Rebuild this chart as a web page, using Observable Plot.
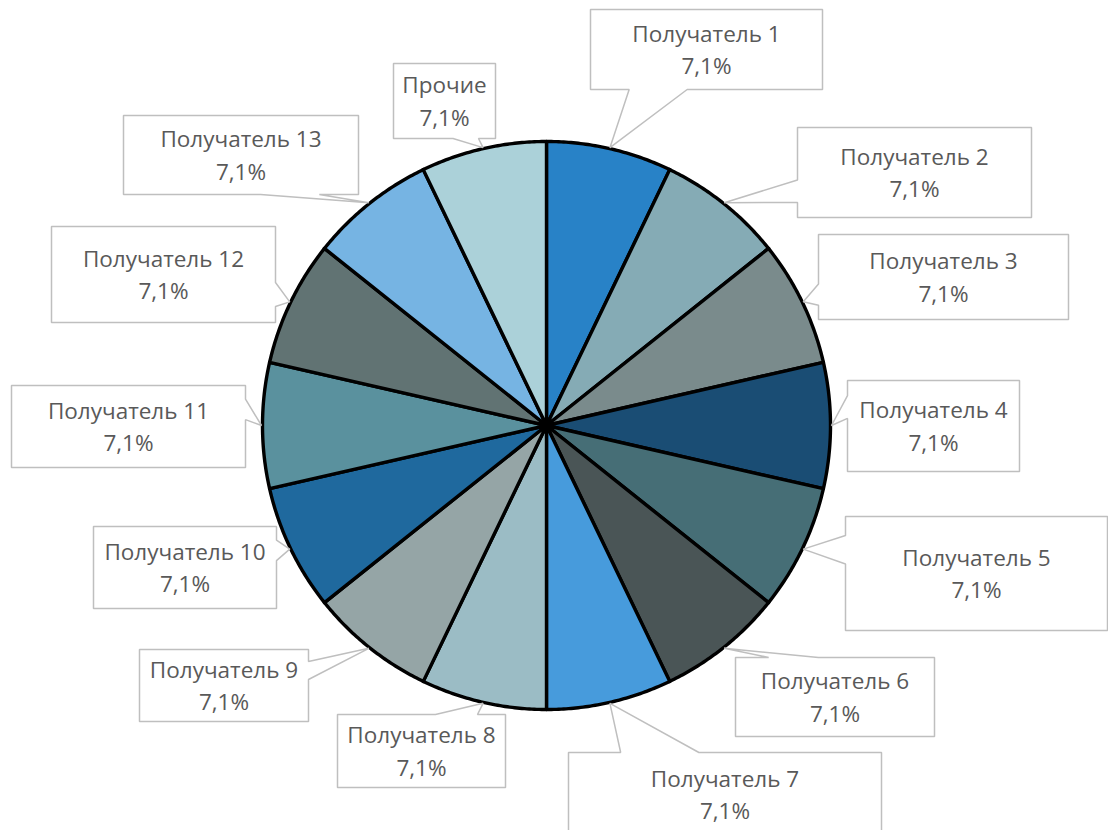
<!DOCTYPE html>
<html>
<head>
<meta charset="utf-8">
<script src="https://cdn.jsdelivr.net/npm/d3@7"></script>
<script src="https://cdn.jsdelivr.net/npm/@observablehq/plot@0.6"></script>
<style>
  html, body { margin: 0; padding: 0; background: #ffffff; }
  #chart { width: 1108px; height: 830px; overflow: hidden; }
  svg { display: block; }
</style>
</head>
<body>
<div id="chart"></div>
<script>
// ---- data ----
const categories = [
  "Получатель 1", "Получатель 2", "Получатель 3", "Получатель 4", "Получатель 5",
  "Получатель 6", "Получатель 7", "Получатель 8", "Получатель 9", "Получатель 10",
  "Получатель 11", "Получатель 12", "Получатель 13", "Прочие"
];
const values = [7.1, 7.1, 7.1, 7.1, 7.1, 7.1, 7.1, 7.1, 7.1, 7.1, 7.1, 7.1, 7.1, 7.1];
const colors = [
  "#2882c7", "#85abb5", "#7a8b8c", "#1a4d74", "#466e76",
  "#4a5556", "#479bdc", "#9bbcc5", "#95a5a6", "#1f699e",
  "#5a919e", "#617373", "#76b4e3", "#abd1d9"
];

// ---- layout (label callout boxes: x0, y0, x1, y1) ----
const labelBoxes = [
  [590, 9, 822, 89],
  [797, 127, 1031, 217],
  [818, 234, 1068, 319],
  [847, 380, 1019, 471],
  [845, 516, 1107, 630],
  [735, 657, 934, 736],
  [568, 752, 881, 836],
  [337, 714, 505, 787],
  [139, 649, 308, 721],
  [93, 526, 276, 608],
  [11, 385, 245, 467],
  [51, 226, 275, 322],
  [123, 115, 358, 194],
  [393, 63, 495, 138]
];
const W = 1108, H = 830;
const cx = 546, cy = 425, R = 284;

// ---- pie geometry ----
const total = d3.sum(values);
const arcs = d3.pie().sort(null).value(d => d)(values);
const pt = (a, r) => [cx + r * Math.sin(a), cy - r * Math.cos(a)];

const slicePts = [];
arcs.forEach((a, i) => {
  const cat = categories[i];
  slicePts.push({cat, x: cx, y: cy});
  const n = Math.max(8, Math.ceil((a.endAngle - a.startAngle) / (Math.PI / 360)));
  for (let k = 0; k <= n; k++) {
    const ang = a.startAngle + (a.endAngle - a.startAngle) * k / n;
    const [x, y] = pt(ang, R);
    slicePts.push({cat, x, y});
  }
});

// ---- callouts (Excel wedgeRectCallout geometry) ----
function callout(b, tip) {
  const [x0, y0, x1, y1] = b;
  const w = x1 - x0, h = y1 - y0;
  const hc = (x0 + x1) / 2, vc = (y0 + y1) / 2;
  const dxPos = tip[0] - hc, dyPos = tip[1] - vc;
  const dx = dxPos * h, dy = dyPos * w;
  let p;
  if (Math.abs(dx) > Math.abs(dy)) {
    const yb1 = y0 + h * (dyPos < 0 ? 2 : 7) / 12;
    const yb2 = y0 + h * (dyPos < 0 ? 5 : 10) / 12;
    if (dxPos < 0) {
      p = [[x0, y0], [x1, y0], [x1, y1], [x0, y1], [x0, yb2], tip, [x0, yb1]];
    } else {
      p = [[x0, y0], [x1, y0], [x1, yb1], tip, [x1, yb2], [x1, y1], [x0, y1]];
    }
  } else {
    const xb1 = x0 + w * (dxPos < 0 ? 2 : 7) / 12;
    const xb2 = x0 + w * (dxPos < 0 ? 5 : 10) / 12;
    if (dyPos < 0) {
      p = [[x0, y0], [xb1, y0], tip, [xb2, y0], [x1, y0], [x1, y1], [x0, y1]];
    } else {
      p = [[x0, y0], [x1, y0], [x1, y1], [xb2, y1], tip, [xb1, y1], [x0, y1]];
    }
  }
  return p;
}

const calloutPts = [];
const labels = [];
arcs.forEach((a, i) => {
  const mid = (a.startAngle + a.endAngle) / 2;
  const tip = pt(mid, R + 1);
  const b = labelBoxes[i];
  callout(b, tip).forEach(([x, y]) => calloutPts.push({id: i, x, y}));
  const pct = (values[i] / total * 100).toFixed(1).replace(".", ",") + "%";
  labels.push({x: (b[0] + b[2]) / 2, y: (b[1] + b[3]) / 2, text: categories[i] + "\n" + pct});
});

const chart = Plot.plot({
  width: W,
  height: H,
  margin: 0,
  x: {domain: [0, W], range: [0, W], axis: null},
  y: {domain: [0, H], range: [0, H], axis: null},
  color: {domain: categories, range: colors},
  style: {background: "#ffffff", fontFamily: "'Open Sans', sans-serif"},
  marks: [
    Plot.line(slicePts, {
      x: "x", y: "y", z: "cat", fill: "cat",
      stroke: "#000000", strokeWidth: 3.4, strokeLinejoin: "round",
      curve: "linear-closed"
    }),
    Plot.line(calloutPts, {
      x: "x", y: "y", z: "id", fill: "#ffffff",
      stroke: "#bfbfbf", strokeWidth: 1.5, strokeLinejoin: "miter",
      curve: "linear-closed"
    }),
    Plot.text(labels, {
      x: "x", y: "y", text: "text", dy: -2,
      fill: "#595959", fontSize: 22.5, lineHeight: 1.46,
      textAnchor: "middle"
    })
  ]
});
document.getElementById("chart").appendChild(chart);
</script>
</body>
</html>
